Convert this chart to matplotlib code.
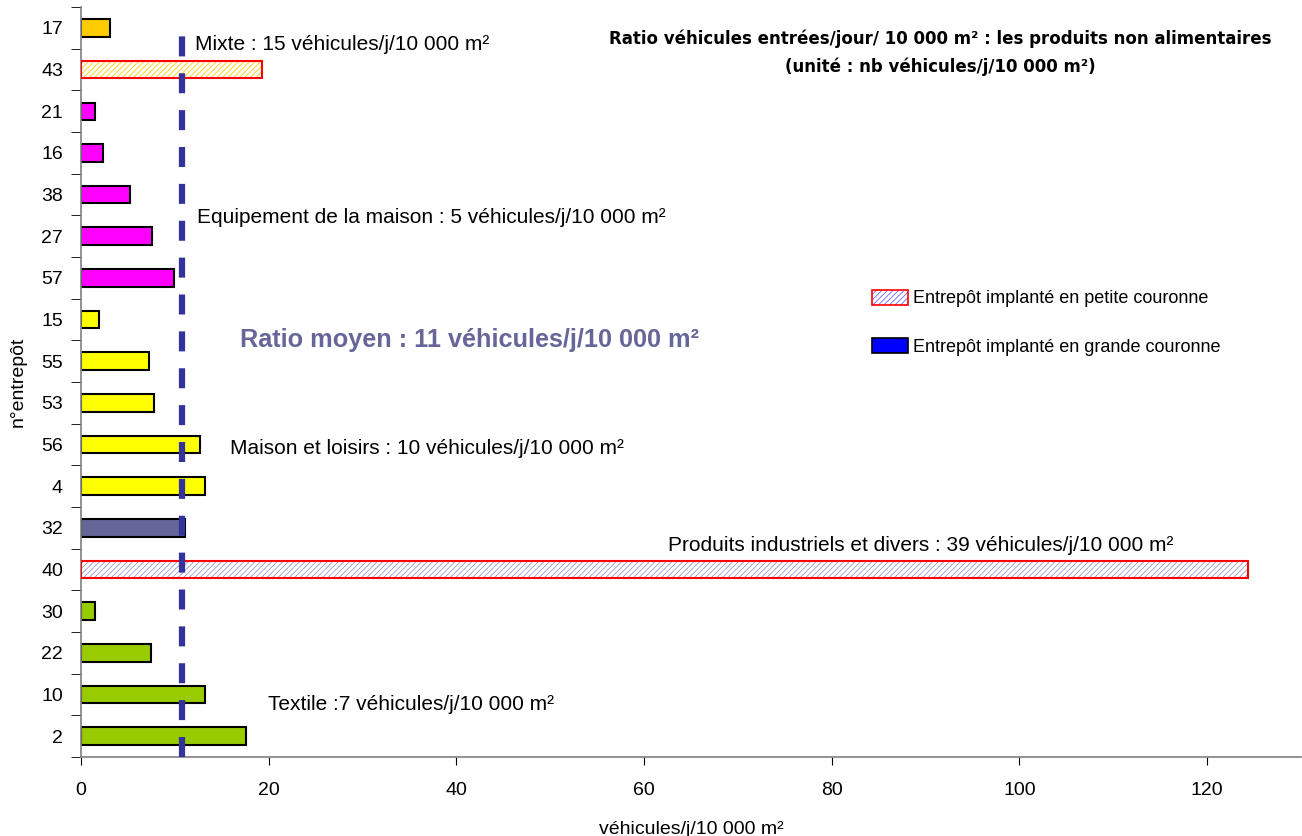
import matplotlib.pyplot as plt
from matplotlib.patches import Patch
from matplotlib.legend_handler import HandlerTuple

plt.rcParams['font.family'] = ['Liberation Sans', 'DejaVu Sans']
plt.rcParams['hatch.linewidth'] = 0.6

# warehouses, bottom to top
entrepots = ['2', '10', '22', '30', '40', '32', '4', '56', '53', '55', '15',
             '57', '27', '38', '16', '21', '43', '17']
ratios = [17.6, 13.2, 7.5, 1.5, 124.4, 11.1, 13.2, 12.7, 7.8, 7.3, 1.9,
          9.9, 7.6, 5.2, 2.3, 1.5, 19.3, 3.1]
groupes = ['textile'] * 4 + ['industriel', 'autre'] + ['loisirs'] * 5 + \
          ['maison'] * 5 + ['mixte'] * 2
petite_couronne = ['40', '43']
ratio_moyen = 10.8

couleurs = {'textile': '#99CC00', 'industriel': '#9999CC', 'autre': '#666699',
            'loisirs': '#FFFF00', 'maison': '#FF00FF', 'mixte': '#FFCC00'}
hachures = {'industriel': '#9999CC', 'mixte': '#FFCC00'}

annotations = [
    (12.2, 16.6, 'Mixte : 15 véhicules/j/10 000 m²'),
    (12.4, 12.45, 'Equipement de la maison : 5 véhicules/j/10 000 m²'),
    (15.9, 6.9, 'Maison et loisirs : 10 véhicules/j/10 000 m²'),
    (62.6, 4.58, 'Produits industriels et divers : 39 véhicules/j/10 000 m²'),
    (19.9, 0.76, 'Textile :7 véhicules/j/10 000 m²'),
]

fig = plt.figure(figsize=(13.02, 8.36), dpi=100)
ax = fig.add_axes([0.0622, 0.0945, 0.9370, 0.897])

pos = list(range(len(entrepots)))
for y, e, v, g in zip(pos, entrepots, ratios, groupes):
    if e in petite_couronne:
        ax.barh(y, v, height=0.42, color='white', edgecolor=hachures[g],
                hatch='//////', linewidth=0, zorder=2)
        ax.barh(y, v, height=0.42, fill=False, edgecolor='#FF0000',
                linewidth=1.5, zorder=3)
    else:
        ax.barh(y, v, height=0.42, color=couleurs[g], edgecolor='black',
                linewidth=1.5, zorder=2)

ax.axvline(ratio_moyen, color='#333399', linewidth=4.5, dashes=(3.2, 2.7),
           ymin=0, ymax=0.98, zorder=4)

ax.set_xlim(0, 130)
ax.set_ylim(-0.5, len(entrepots) - 0.5)
ax.set_xticks([0, 20, 40, 60, 80, 100, 120])
ax.set_yticks(pos)
ax.set_yticklabels(entrepots)
ax.set_yticks([p - 0.5 for p in pos] + [len(pos) - 0.5], minor=True)
ax.tick_params(axis='y', which='major', length=0, pad=13, labelsize=14)
ax.tick_params(axis='y', which='minor', length=7, color='black')
ax.tick_params(axis='x', length=6, pad=12, labelsize=14, direction='out')
for s in ['top', 'right']:
    ax.spines[s].set_visible(False)
for s in ['left', 'bottom']:
    ax.spines[s].set_color('#808080')
    ax.spines[s].set_linewidth(1.2)

ax.set_ylabel('n°entrepôt', fontsize=14, labelpad=10)
ax.set_xlabel('véhicules/j/10 000 m²', fontsize=14, labelpad=16)

for x, y, t in annotations:
    ax.text(x, y, t, fontsize=15, va='center', ha='left')

ax.text(16.9, 9.5, 'Ratio moyen : 11 véhicules/j/10 000 m²', fontsize=18.2,
        fontweight='bold', color='#666699', va='center', ha='left')

fig.text(0.722, 0.937, 'Ratio véhicules entrées/jour/ 10 000 m² : les produits non alimentaires\n'
         '(unité : nb véhicules/j/10 000 m²)',
         fontsize=12, fontweight='bold', ha='center', va='center',
         family=['Liberation Sans Narrow', 'DejaVu Sans'], linespacing=1.6)

h_petite = (Patch(facecolor='white', edgecolor='#6666FF', hatch='//////', linewidth=0),
            Patch(fill=False, edgecolor='#FF0000', linewidth=1.2))
h_grande = Patch(facecolor='#0000FF', edgecolor='black', linewidth=1.2)
ax.legend([h_petite, h_grande],
          ['Entrepôt implanté en petite couronne', 'Entrepôt implanté en grande couronne'],
          handler_map={tuple: HandlerTuple(ndivide=1, pad=0)},
          loc='upper left', bbox_to_anchor=(0.635, 0.645), frameon=False,
          fontsize=13, handlelength=2.0, handleheight=0.9, handletextpad=0.3,
          labelspacing=1.7)

fig.savefig('out.png', dpi=100)
